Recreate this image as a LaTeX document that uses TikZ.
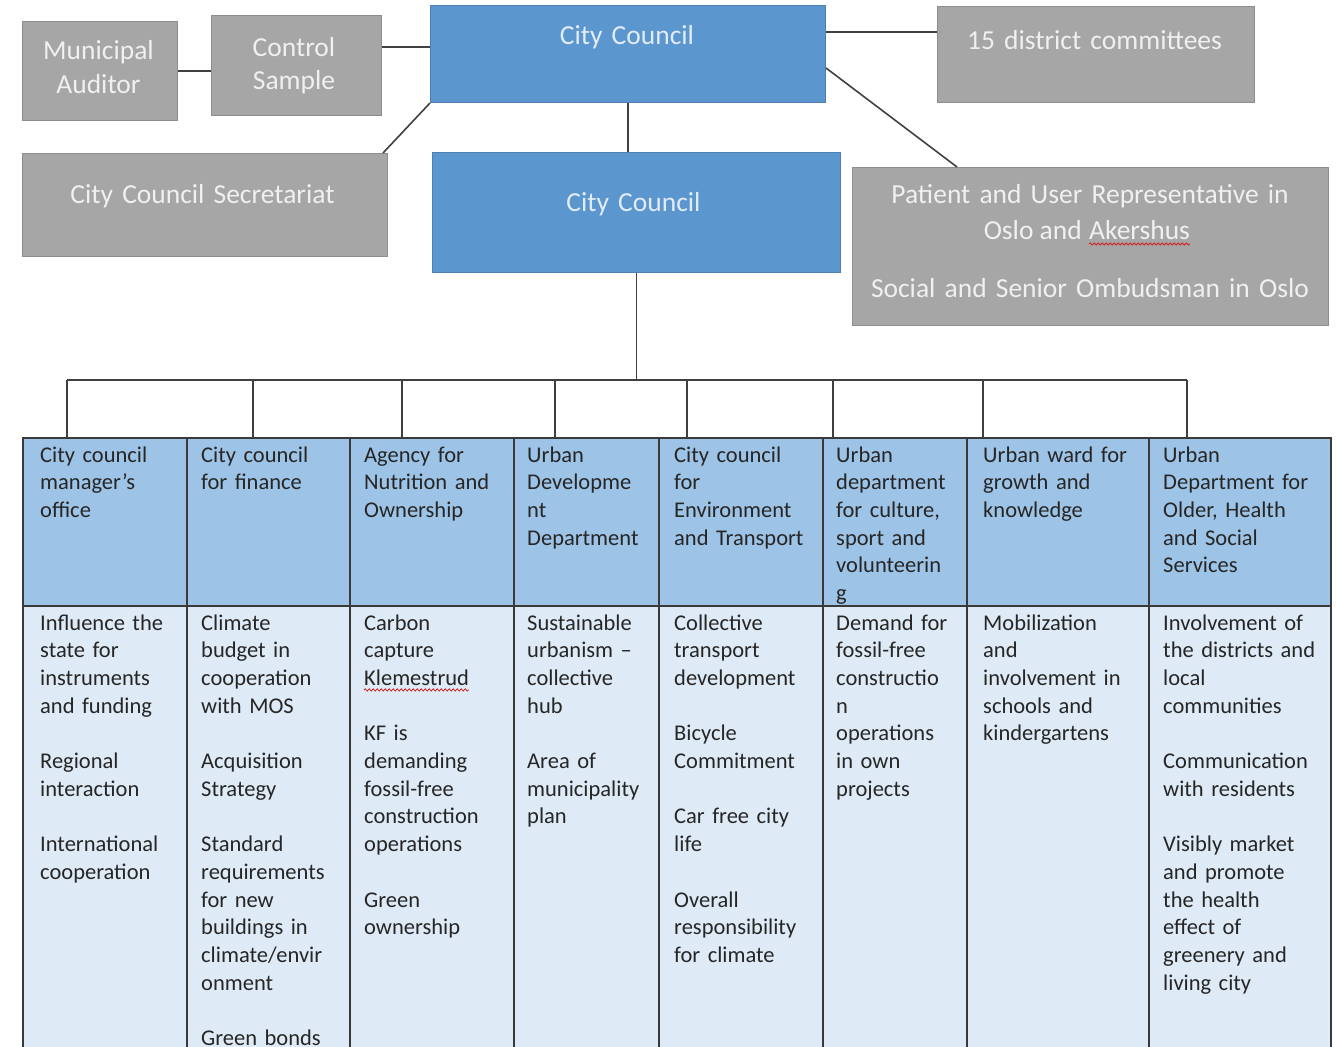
\documentclass[tikz,border=0pt]{standalone}
\usepackage{fontspec}
\setmainfont{Carlito}
\usetikzlibrary{calc,decorations.pathmorphing}
\definecolor{boxgray}{HTML}{A6A6A6}
\definecolor{boxblue}{HTML}{5B96CF}
\definecolor{hdrblue}{HTML}{9DC3E6}
\definecolor{bodyblue}{HTML}{DEEAF6}
\definecolor{linecol}{HTML}{404040}
\definecolor{tabline}{HTML}{3A3A3A}
\definecolor{tabtext}{HTML}{262626}
\definecolor{graytext}{HTML}{F0F0F0}
\definecolor{bluetxt}{HTML}{E2ECF7}
\definecolor{squig}{HTML}{D02020}
\begin{document}
\begin{tikzpicture}[x=1pt,y=-1pt,
 graybox/.style={fill=boxgray, draw=boxgray!85!black, line width=1pt, inner sep=0pt, anchor=north west},
 bluebox/.style={fill=boxblue, draw=boxblue!85!black, line width=1pt, inner sep=0pt, anchor=north west},
 toptext/.style={font=\fontsize{27.5}{34}\selectfont, text=graytext, align=center, text width=470pt, inner sep=0pt, anchor=base},
 bluetext/.style={toptext, text=bluetxt},
 wordtext/.style={font=\fontsize{27.5}{34}\selectfont, text=graytext, inner sep=0pt},
 conn/.style={draw=linecol, line width=1.6pt},
 squiggle/.style={draw=squig, line width=0.8pt, decorate, decoration={snake, amplitude=1.1pt, segment length=4pt}},
 hdrcell/.style={fill=hdrblue, draw=tabline, line width=1.6pt, inner sep=0pt, anchor=north west, minimum height=168pt},
 bodycell/.style={fill=bodyblue, draw=tabline, line width=1.6pt, inner sep=0pt, anchor=north west, minimum height=470pt},
 celltext/.style={font=\fontsize{22.5}{27.7}\selectfont, text=tabtext, align=left, text width=220pt, inner sep=0pt, anchor=base west},
 cellword/.style={font=\fontsize{22.5}{27.7}\selectfont, text=tabtext, inner sep=0pt, anchor=base west},
]
\useasboundingbox (0,0) rectangle (1337,1046);
\clip (0,0) rectangle (1337,1046);

% top boxes
\node[graybox, minimum width=155pt, minimum height=99pt] (ma) at (22,21) {};
\node[graybox, minimum width=170pt, minimum height=100pt] (cs) at (211,15) {};
\node[bluebox, minimum width=395pt, minimum height=97pt] (cc1) at (430,5) {};
\node[graybox, minimum width=317pt, minimum height=96pt] (dc) at (937,6) {};
\node[graybox, minimum width=365pt, minimum height=103pt] (sec) at (22,153) {};
\node[bluebox, minimum width=408pt, minimum height=120pt] (cc2) at (432,152) {};
\node[graybox, minimum width=476pt, minimum height=158pt] (pat) at (852,167) {};

\node[toptext] (mat) at (98.5,60) {Municipal\\Auditor};
\node[toptext, font=\fontsize{27.5}{33}\selectfont] (cst) at (294,57) {Control\\Sample};
\node[bluetext] (cc1t) at (627,45) {City Council};
\node[toptext] (dct) at (1094.5,50) {15 district committees};
\node[toptext] (sect) at (202.5,203) {City Council Secretariat};
\node[bluetext] (cc2t) at (633.5,211) {City Council};
\node[toptext] (patt1) at (1090,203) {Patient and User Representative in};
\node[wordtext, anchor=base east] (patt2) at (1082,239) {Oslo and};
\node[wordtext, anchor=base west] (patt3) at (1089,239) {Akershus};
\node[toptext] (patt4) at (1090,297) {Social and Senior Ombudsman in Oslo};
\draw[squiggle] ([yshift=-5pt]patt3.base west) -- ([yshift=-5pt]patt3.base east);

% helper coordinates
\coordinate (y32) at (0,32);
\coordinate (y47) at (0,47);
\coordinate (y68) at (0,68);
\coordinate (x957) at (957,0);
\coordinate (bus) at (0,380);

% table
\node[bodycell, minimum width=164pt] (b1) at (22,605) {};
\node[bodycell, minimum width=163pt] (b2) at (186,605) {};
\node[bodycell, minimum width=164pt] (b3) at (349,605) {};
\node[bodycell, minimum width=145pt] (b4) at (513,605) {};
\node[bodycell, minimum width=164pt] (b5) at (658,605) {};
\node[bodycell, minimum width=144pt] (b6) at (822,605) {};
\node[bodycell, minimum width=182pt] (b7) at (966,605) {};
\node[bodycell, minimum width=182pt] (b8) at (1148,605) {};

\node[hdrcell, minimum width=164pt] (h1) at (22,437) {};
\node[hdrcell, minimum width=163pt] (h2) at (186,437) {};
\node[hdrcell, minimum width=164pt] (h3) at (349,437) {};
\node[hdrcell, minimum width=145pt] (h4) at (513,437) {};
\node[hdrcell, minimum width=164pt] (h5) at (658,437) {};
\node[hdrcell, minimum width=144pt] (h6) at (822,437) {};
\node[hdrcell, minimum width=182pt] (h7) at (966,437) {};
\node[hdrcell, minimum width=182pt] (h8) at (1148,437) {};

\node[celltext] (h1t) at (40,462) {City council\\manager's\\office};
\node[celltext] (h2t) at (201,462) {City council\\for finance};
\node[celltext] (h3t) at (364,462) {Agency for\\Nutrition and\\Ownership};
\node[celltext] (h4t) at (527,462) {Urban\\Developme\\nt\\Department};
\node[celltext] (h5t) at (674,462) {City council\\for\\Environment\\and Transport};
\node[celltext] (h6t) at (836,462) {Urban\\department\\for culture,\\sport and\\volunteerin\\g};
\node[celltext] (h7t) at (983,462) {Urban ward for\\growth and\\knowledge};
\node[celltext] (h8t) at (1163,462) {Urban\\Department for\\Older, Health\\and Social\\Services};

\node[celltext] (b1t) at (40,630) {Influence the\\state for\\instruments\\and funding\\[27.7pt]Regional\\interaction\\[27.7pt]International\\cooperation};
\node[celltext] (b2t) at (201,630) {Climate\\budget in\\cooperation\\with MOS\\[27.7pt]Acquisition\\Strategy\\[27.7pt]Standard\\requirements\\for new\\buildings in\\climate/envir\\onment\\[27.7pt]Green bonds};
\node[celltext] (b3t) at (364,630) {Carbon\\capture\\[55.4pt]KF is\\demanding\\fossil-free\\construction\\operations\\[27.7pt]Green\\ownership};
\node[cellword] (klem) at (364,685.4) {Klemestrud};
\draw[squiggle] ([yshift=-4.5pt]klem.base west) -- ([yshift=-4.5pt]klem.base east);
\node[celltext] (b4t) at (527,630) {Sustainable\\urbanism --\\collective\\hub\\[27.7pt]Area of\\municipality\\plan};
\node[celltext] (b5t) at (674,630) {Collective\\transport\\development\\[27.7pt]Bicycle\\Commitment\\[27.7pt]Car free city\\life\\[27.7pt]Overall\\responsibility\\for climate};
\node[celltext] (b6t) at (836,630) {Demand for\\fossil-free\\constructio\\n\\operations\\in own\\projects};
\node[celltext] (b7t) at (983,630) {Mobilization\\and\\involvement in\\schools and\\kindergartens};
\node[celltext] (b8t) at (1163,630) {Involvement of\\the districts and\\local\\communities\\[27.7pt]Communication\\with residents\\[27.7pt]Visibly market\\and promote\\the health\\effect of\\greenery and\\living city};

% connectors
\draw[conn] (ma.east) -- (ma.east -| cs.west);
\draw[conn] (cs.east |- y47) -- (cc1.west |- y47);
\draw[conn] (cc1.east |- y32) -- (dc.west |- y32);
\draw[conn] (cc1.south west) -- ([xshift=-5pt]sec.north east);
\draw[conn] (cc1.south) -- (cc1.south |- cc2.north);
\draw[conn] (cc1.east |- y68) -- (x957 |- pat.north);
\draw[conn] (cc2.south) -- (cc2.south |- bus);

\coordinate (t1) at (67,380);
\coordinate (t2) at (253,380);
\coordinate (t3) at (402,380);
\coordinate (t4) at (555,380);
\coordinate (t5) at (687,380);
\coordinate (t6) at (833,380);
\coordinate (t7) at (983,380);
\coordinate (t8) at (1187,380);
\draw[conn] (t1) -- (t8);
\draw[conn] (t1) -- (t1 |- h1.north);
\draw[conn] (t2) -- (t2 |- h2.north);
\draw[conn] (t3) -- (t3 |- h3.north);
\draw[conn] (t4) -- (t4 |- h4.north);
\draw[conn] (t5) -- (t5 |- h5.north);
\draw[conn] (t6) -- (t6 |- h6.north);
\draw[conn] (t7) -- (t7 |- h7.north);
\draw[conn] (t8) -- (t8 |- h8.north);
\end{tikzpicture}
\end{document}
